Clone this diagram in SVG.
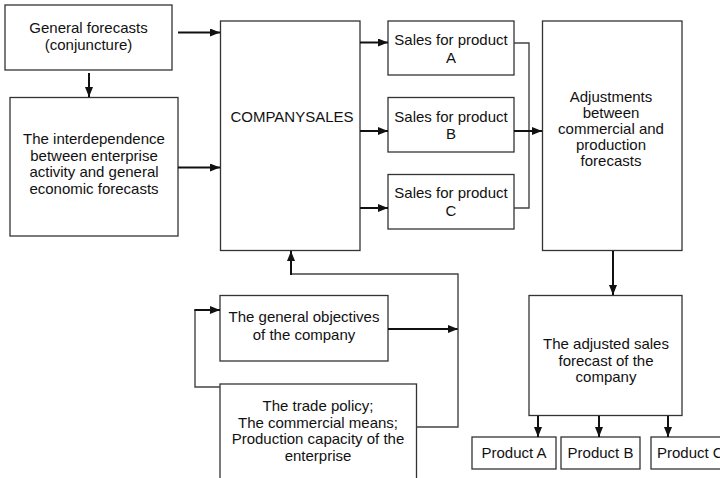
<svg xmlns="http://www.w3.org/2000/svg" width="720" height="478" viewBox="0 0 720 478">
<style>
.box{fill:#fff;stroke:#333;stroke-width:1.3}
.t{font-family:"Liberation Sans",Arial,sans-serif;font-size:15px;fill:#111;text-anchor:middle}
.a{fill:none;stroke:#111;stroke-width:2}
.l{fill:none;stroke:#444;stroke-width:1.4}
</style>
<defs>
<marker id="ah" viewBox="0 0 10 8" refX="10" refY="4" markerWidth="10" markerHeight="8" markerUnits="userSpaceOnUse" orient="auto">
<path d="M0,0 L10,4 L0,8 Z" fill="#111"/>
</marker>
</defs>
<rect width="720" height="478" fill="#fff"/>
<g id="general-forecasts"><rect class="box" x="5" y="5" width="167" height="65"/>
<text class="t" x="88.5" y="33">General forecasts</text><text class="t" x="88.5" y="50">(conjuncture)</text></g>
<g id="interdependence"><rect class="box" x="10" y="97.5" width="168" height="138.5"/>
<text class="t" x="94" y="144">The interdependence</text><text class="t" x="94" y="160.5">between enterprise</text><text class="t" x="94" y="177">activity and general</text><text class="t" x="94" y="193.5">economic forecasts</text></g>
<g id="companysales"><rect class="box" x="220.5" y="21" width="139.5" height="229.5"/>
<text class="t" x="292" y="122">COMPANYSALES</text></g>
<g id="sales-a"><rect class="box" x="388" y="21" width="126" height="54"/>
<text class="t" x="451" y="45">Sales for product</text><text class="t" x="451" y="63">A</text></g>
<g id="sales-b"><rect class="box" x="388" y="97.5" width="126" height="54.5"/>
<text class="t" x="451" y="122">Sales for product</text><text class="t" x="451" y="139">B</text></g>
<g id="sales-c"><rect class="box" x="388" y="174.5" width="126" height="54.5"/>
<text class="t" x="451" y="198">Sales for product</text><text class="t" x="451" y="216">C</text></g>
<g id="adjustments"><rect class="box" x="542.5" y="21" width="139.5" height="229.5"/>
<text class="t" x="611" y="102">Adjustments</text><text class="t" x="611" y="118">between</text><text class="t" x="611" y="134">commercial and</text><text class="t" x="611" y="150">production</text><text class="t" x="611" y="166">forecasts</text></g>
<g id="adjusted-forecast"><rect class="box" x="529" y="295.5" width="153" height="120"/>
<text class="t" x="606" y="349">The adjusted sales</text><text class="t" x="606" y="365.5">forecast of the</text><text class="t" x="606" y="382">company</text></g>
<g id="product-a"><rect class="box" x="472" y="437" width="84" height="32"/><text class="t" x="514" y="458">Product A</text></g>
<g id="product-b"><rect class="box" x="561" y="437" width="79" height="32"/><text class="t" x="600.5" y="458">Product B</text></g>
<g id="product-c"><rect class="box" x="651" y="437" width="80" height="32"/><text class="t" x="657" y="458" style="text-anchor:start">Product C</text></g>
<g id="objectives"><rect class="box" x="220" y="295.5" width="168" height="65.5"/>
<text class="t" x="304" y="322">The general objectives</text><text class="t" x="304" y="340">of the company</text></g>
<g id="trade-policy"><rect class="box" x="220" y="384" width="196.5" height="110"/>
<text class="t" x="318" y="411">The trade policy;</text><text class="t" x="318" y="427.5">The commercial means;</text><text class="t" x="318" y="444">Production capacity of the</text><text class="t" x="318" y="460.5">enterprise</text></g>
<g id="connectors">
<path class="a" d="M178,32.5 H220" marker-end="url(#ah)"/>
<path class="a" d="M89,73 V97" marker-end="url(#ah)"/>
<path class="a" d="M178,167.5 H220" marker-end="url(#ah)"/>
<path class="a" d="M360,42.5 H388" marker-end="url(#ah)"/>
<path class="a" d="M360,131 H388" marker-end="url(#ah)"/>
<path class="a" d="M360,208 H388" marker-end="url(#ah)"/>
<path class="l" d="M514,43 H529 V208 H514"/>
<path class="a" d="M514,131 H542" marker-end="url(#ah)"/>
<path class="a" d="M613,251 V295" marker-end="url(#ah)"/>
<path class="a" d="M538,416 V437" marker-end="url(#ah)"/>
<path class="a" d="M599,416 V437" marker-end="url(#ah)"/>
<path class="a" d="M668,416 V437" marker-end="url(#ah)"/>
<path class="a" d="M388,329 H458" marker-end="url(#ah)"/>
<path class="l" d="M416.5,427 H458 V274 H291"/>
<path class="a" d="M291,275 V251" marker-end="url(#ah)"/>
<path class="l" d="M220,387 H195 V310"/>
<path class="a" d="M194.3,310 H220" marker-end="url(#ah)"/>
</g>
</svg>
